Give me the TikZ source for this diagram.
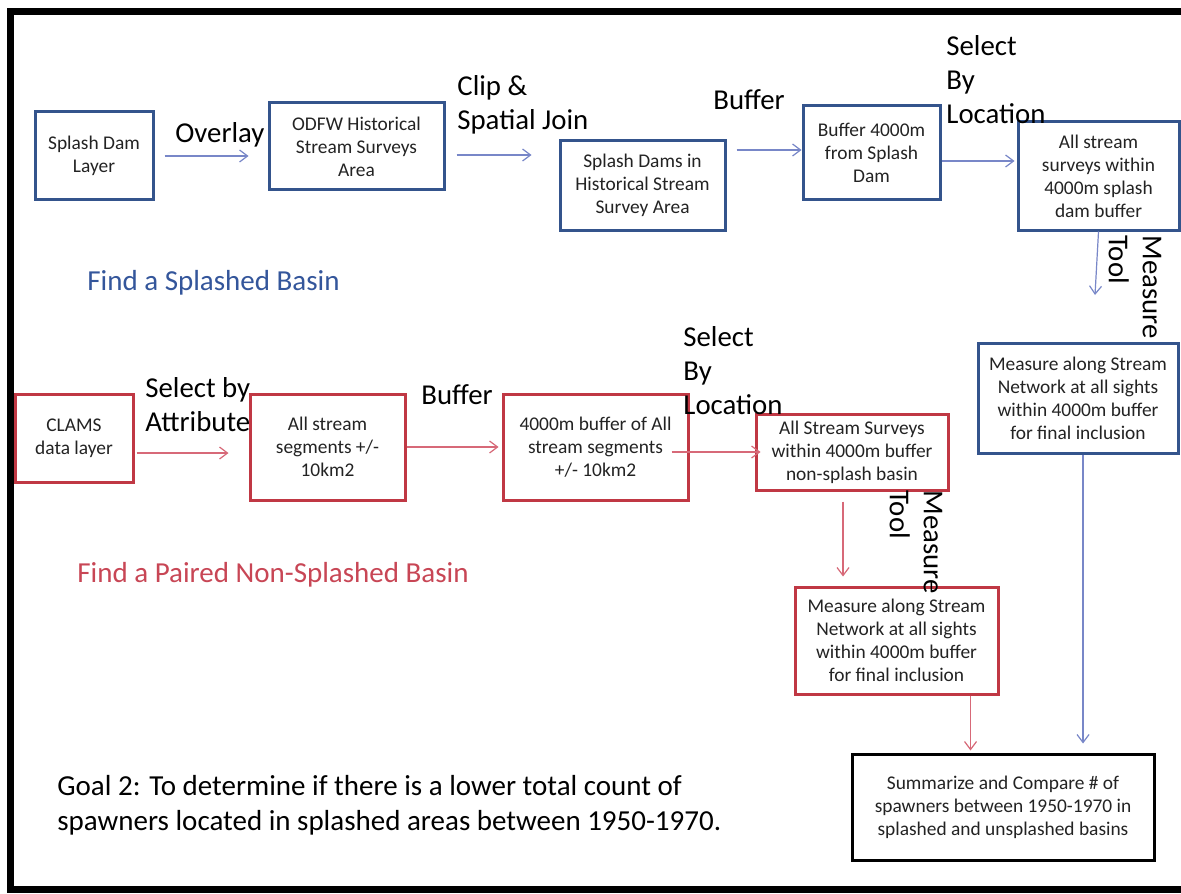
\documentclass[tikz,border=0pt]{standalone}
\usepackage{fontspec}
\setmainfont{Carlito}
\usetikzlibrary{arrows.meta}

\definecolor{boxblue}{RGB}{52,84,140}
\definecolor{boxred}{RGB}{192,56,68}
\definecolor{lineblue}{RGB}{120,135,200}
\definecolor{linered}{RGB}{215,105,120}
\definecolor{titleblue}{RGB}{52,86,155}
\definecolor{titlered}{RGB}{200,70,85}
\definecolor{boxtext}{RGB}{35,35,35}

\begin{document}
\begin{tikzpicture}[
    x=0.5pt, y=-0.5pt,
    >={Straight Barb[length=4pt, width=6pt]},
    box/.style={draw, line width=1.5pt, align=center, inner sep=2pt, text=boxtext, font=\fontsize{9.7}{11.5}\selectfont},
    bluebox/.style={box, draw=boxblue},
    redbox/.style={box, draw=boxred},
    lbl/.style={inner sep=0pt, align=left, font=\fontsize{14.4}{17}\selectfont},
    toollbl/.style={lbl, rotate=-90},
    title/.style={inner sep=0pt, anchor=base west, font=\fontsize{14.5}{17.5}\selectfont},
    flowblue/.style={->, draw=lineblue, line width=0.6pt},
    flowred/.style={->, draw=linered, line width=0.6pt}
  ]

  \useasboundingbox[fill=white] (0,0) rectangle (1181,893);
  \draw[line width=3.5pt] (1181,11.5) -- (10.5,11.5) -- (10.5,889.5) -- (1181,889.5);

  % summary
  \node[box, draw=black, minimum width=151pt, minimum height=53pt] (summary) at (1003,807) {Summarize and Compare \# of\\spawners between 1950-1970 in\\splashed and unsplashed basins};

  % splashed basin
  \node[bluebox, minimum width=59pt, minimum height=44pt] (splash) at (94,156) {Splash Dam\\Layer};
  \node[bluebox, minimum width=87.5pt, minimum height=43.5pt] (odfw) at (356.5,146.5) {ODFW Historical\\Stream Surveys\\Area};
  \node[bluebox, minimum width=82.5pt, minimum height=44.5pt] (dams) at (642.5,185.5) {Splash Dams in\\Historical Stream\\Survey Area};
  \node[bluebox, minimum width=68.5pt, minimum height=47pt] (buf4000) at (871.5,153) {Buffer 4000m\\from Splash\\Dam};
  \node[bluebox, minimum width=80.5pt, minimum height=54pt] (surveys) at (1098.5,176) {All stream\\surveys within\\4000m splash\\dam buffer};
  \node[bluebox, minimum width=100pt, minimum height=55pt] (measureA) at (1078,398) {Measure along Stream\\Network at all sights\\within 4000m buffer\\for final inclusion};

  \node[title, text=titleblue] (titleA) at (87,290) {Find a Splashed Basin};

  \node[lbl, anchor=base west] (tOverlay) at (175,143) {Overlay};
  \node[lbl, anchor=west] (tClip) at (457,105) {Clip \&\\Spatial Join};
  \node[lbl, anchor=base west] (tBufA) at (713,110) {Buffer};
  \node[lbl, anchor=west] (tSelA) at (946,80) {Select\\By\\Location};
  \node[toollbl] (tToolA) at (1135,287) {Measure\\Tool};

  \draw[flowblue, shorten <=5pt, shorten >=9.5pt] (splash.east) -- (odfw.west |- splash.east);
  \draw[flowblue, shorten <=5.5pt, shorten >=13.5pt] ([yshift=-4.25pt]odfw.east) -- ([yshift=-4.25pt]odfw.east -| dams.west);
  \draw[flowblue, shorten <=5pt] ([yshift=1.5pt]dams.east |- buf4000.west) -- ([yshift=1.5pt]buf4000.west);
  \draw[flowblue, shorten >=1pt] ([yshift=-4pt]buf4000.east) -- ([yshift=-4pt]buf4000.east -| surveys.west);
  \coordinate (toolA) at (1095,295);
  \draw[flowblue] (surveys.south) -- (toolA);
  \draw[flowblue, shorten >=4.5pt] ([xshift=2.5pt]measureA.south) -- ([xshift=2.5pt]measureA.south |- summary.north);

  % paired non-splashed basin
  \node[redbox, minimum width=59pt, minimum height=44pt] (clams) at (74,438) {CLAMS\\data layer};
  \node[redbox, minimum width=77.5pt, minimum height=53pt] (segments) at (327.5,447) {All stream\\segments +/-\\10km2};
  \node[redbox, minimum width=92.5pt, minimum height=53pt] (bufall) at (595.5,447) {4000m buffer of All\\stream segments\\+/- 10km2};
  \node[redbox, minimum width=96pt, minimum height=38pt] (surveysB) at (852,452) {All Stream Surveys\\within 4000m buffer\\non-splash basin};
  \node[redbox, minimum width=101.5pt, minimum height=53.5pt] (measureB) at (896.5,640.5) {Measure along Stream\\Network at all sights\\within 4000m buffer\\for final inclusion};

  \node[title, text=titlered] (titleB) at (77,582) {Find a Paired Non-Splashed Basin};

  \node[lbl, anchor=west] (tAttr) at (145,405) {Select by\\Attribute};
  \node[lbl, anchor=base west] (tBufB) at (421,404) {Buffer};
  \node[lbl, anchor=west] (tSelB) at (683,371) {Select\\By\\Location};
  \node[toollbl] (tToolB) at (916,542) {Measure\\Tool};

  \draw[flowred, shorten <=1pt, shorten >=10pt] ([yshift=-7.5pt]clams.east) -- ([yshift=-7.5pt]clams.east -| segments.west);
  \draw[flowred, shorten >=1.5pt] (segments) -- (bufall);
  \draw[flowred, shorten <=-9pt, shorten >=-3pt] (bufall.east |- surveysB.west) -- (surveysB.west);
  \draw[flowred, shorten <=5pt, shorten >=4.5pt] ([xshift=-4.5pt]surveysB.south) -- ([xshift=-4.5pt]surveysB.south |- measureB.north);
  \draw[flowred, shorten >=1pt] ([xshift=-14.5pt]measureB.south east) -- ([xshift=-14.5pt]measureB.south east |- summary.north);

  \node[title, text=black, align=left, anchor=north west] (goal) at (57,775) {Goal 2: To determine if there is a lower total count of\\spawners located in splashed areas between 1950-1970.};

\end{tikzpicture}
\end{document}
